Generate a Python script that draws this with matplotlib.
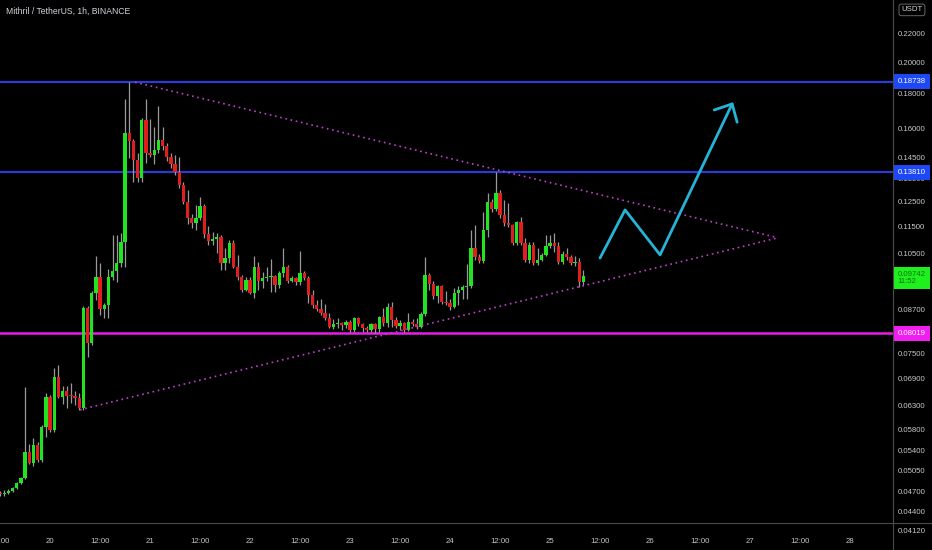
import numpy as np
import matplotlib
matplotlib.use('Agg')
import matplotlib.pyplot as plt
from matplotlib import font_manager
from matplotlib.ticker import FixedLocator, NullLocator

# MITH/USDT 1h candles, first candle = 19th 12:00 (hours counted from the 20th 00:00)
start_hour = -12
opens = [0.0469, 0.0466, 0.0469, 0.0472, 0.0477, 0.0485, 0.0493, 0.0537, 0.0519, 0.0551,
         0.0524, 0.0585, 0.0647, 0.0579, 0.0693, 0.0647, 0.0661, 0.0650, 0.0649, 0.0645,
         0.0624, 0.0874, 0.0777, 0.0920, 0.0970, 0.0871, 0.0883, 0.0970, 0.0990, 0.1017,
         0.1093, 0.1577, 0.1534, 0.1439, 0.1354, 0.1647, 0.1473, 0.1465, 0.1488, 0.1539,
         0.1508, 0.1453, 0.1420, 0.1382, 0.1323, 0.1250, 0.1183, 0.1163, 0.1183, 0.1233,
         0.1122, 0.1096, 0.1101, 0.1110, 0.1017, 0.1034, 0.1089, 0.1003, 0.0970, 0.0929,
         0.0960, 0.0920, 0.1003, 0.0957, 0.0967, 0.0970, 0.0972, 0.0944, 0.0983, 0.1003,
         0.0957, 0.0967, 0.0954, 0.0983, 0.0967, 0.0914, 0.0883, 0.0871, 0.0860, 0.0845,
         0.0820, 0.0828, 0.0831, 0.0826, 0.0834, 0.0812, 0.0845, 0.0828, 0.0817, 0.0812,
         0.0828, 0.0815, 0.0848, 0.0831, 0.0877, 0.0839, 0.0823, 0.0831, 0.0812, 0.0834,
         0.0828, 0.0820, 0.0856, 0.0976, 0.0947, 0.0910, 0.0940, 0.0892, 0.0889, 0.0877,
         0.0920, 0.0929, 0.0937, 0.0940, 0.1070, 0.1037, 0.1024, 0.1137, 0.1250, 0.1220,
         0.1288, 0.1196, 0.1163, 0.1156, 0.1089, 0.1168, 0.1089, 0.1027, 0.1082, 0.1017,
         0.1027, 0.1045, 0.1075, 0.1089, 0.1075, 0.1020, 0.1048, 0.1037, 0.1017, 0.1020,
         0.0954]
highs = [0.0472, 0.0473, 0.0474, 0.0478, 0.0486, 0.0495, 0.0670, 0.0553, 0.0564, 0.0556,
         0.0589, 0.0655, 0.0651, 0.0713, 0.0722, 0.0672, 0.0672, 0.0679, 0.0661, 0.0655,
         0.0880, 0.0880, 0.0925, 0.1041, 0.1017, 0.0889, 0.0997, 0.1119, 0.1119, 0.1125,
         0.1770, 0.1874, 0.1545, 0.1473, 0.1658, 0.1765, 0.1650, 0.1610, 0.1726, 0.1610,
         0.1525, 0.1473, 0.1463, 0.1453, 0.1336, 0.1301, 0.1200, 0.1237, 0.1271, 0.1240,
         0.1150, 0.1129, 0.1125, 0.1118, 0.1070, 0.1099, 0.1099, 0.1045, 0.0976, 0.0970,
         0.0970, 0.1041, 0.1020, 0.0987, 0.1003, 0.1030, 0.0976, 0.0990, 0.1070, 0.1010,
         0.0973, 0.0970, 0.1059, 0.0990, 0.0973, 0.0929, 0.0898, 0.0901, 0.0886, 0.0860,
         0.0842, 0.0845, 0.0834, 0.0839, 0.0839, 0.0848, 0.0848, 0.0831, 0.0823, 0.0831,
         0.0831, 0.0851, 0.0873, 0.0889, 0.0892, 0.0848, 0.0839, 0.0834, 0.0860, 0.0842,
         0.0845, 0.0862, 0.1037, 0.0983, 0.0957, 0.0944, 0.0944, 0.0926, 0.0901, 0.0935,
         0.0941, 0.0944, 0.1013, 0.1137, 0.1157, 0.1048, 0.1208, 0.1288, 0.1263, 0.1381,
         0.1301, 0.1258, 0.1245, 0.1160, 0.1171, 0.1186, 0.1107, 0.1093, 0.1093, 0.1070,
         0.1052, 0.1117, 0.1117, 0.1125, 0.1093, 0.1059, 0.1070, 0.1045, 0.1041, 0.1034,
         0.0993]
lows = [0.0463, 0.0464, 0.0467, 0.0470, 0.0475, 0.0483, 0.0491, 0.0517, 0.0513, 0.0520,
        0.0520, 0.0566, 0.0575, 0.0575, 0.0645, 0.0633, 0.0624, 0.0635, 0.0631, 0.0620,
        0.0620, 0.0741, 0.0770, 0.0898, 0.0854, 0.0845, 0.0845, 0.0960, 0.0954, 0.1003,
        0.1003, 0.1449, 0.1336, 0.1336, 0.1336, 0.1425, 0.1452, 0.1420, 0.1475, 0.1488,
        0.1434, 0.1401, 0.1366, 0.1310, 0.1240, 0.1160, 0.1144, 0.1137, 0.1175, 0.1107,
        0.1081, 0.1081, 0.1052, 0.0993, 0.0993, 0.1017, 0.1000, 0.0960, 0.0923, 0.0926,
        0.0917, 0.0904, 0.0929, 0.0935, 0.0957, 0.0923, 0.0923, 0.0935, 0.0970, 0.0951,
        0.0954, 0.0944, 0.0944, 0.0960, 0.0890, 0.0874, 0.0865, 0.0854, 0.0839, 0.0817,
        0.0814, 0.0817, 0.0812, 0.0817, 0.0806, 0.0806, 0.0823, 0.0806, 0.0806, 0.0806,
        0.0804, 0.0806, 0.0823, 0.0820, 0.0820, 0.0817, 0.0812, 0.0806, 0.0809, 0.0823,
        0.0814, 0.0817, 0.0851, 0.0929, 0.0901, 0.0890, 0.0886, 0.0883, 0.0868, 0.0874,
        0.0883, 0.0901, 0.0901, 0.0935, 0.1027, 0.1017, 0.1017, 0.1110, 0.1208, 0.1212,
        0.1183, 0.1150, 0.1147, 0.1082, 0.1082, 0.1082, 0.1020, 0.1017, 0.1010, 0.1010,
        0.1024, 0.1041, 0.1068, 0.1055, 0.1013, 0.1013, 0.1027, 0.1010, 0.1006, 0.0938,
        0.0944]
closes = [0.0466, 0.0469, 0.0472, 0.0477, 0.0485, 0.0493, 0.0537, 0.0519, 0.0551, 0.0524,
          0.0585, 0.0647, 0.0579, 0.0693, 0.0647, 0.0661, 0.0650, 0.0649, 0.0645, 0.0624,
          0.0874, 0.0777, 0.0920, 0.0970, 0.0871, 0.0883, 0.0970, 0.0990, 0.1017, 0.1093,
          0.1577, 0.1534, 0.1439, 0.1354, 0.1647, 0.1473, 0.1465, 0.1488, 0.1539, 0.1508,
          0.1453, 0.1420, 0.1382, 0.1323, 0.1250, 0.1183, 0.1163, 0.1183, 0.1233, 0.1122,
          0.1096, 0.1101, 0.1110, 0.1017, 0.1034, 0.1089, 0.1003, 0.0970, 0.0929, 0.0960,
          0.0920, 0.1003, 0.0957, 0.0967, 0.0970, 0.0972, 0.0944, 0.0983, 0.1003, 0.0957,
          0.0967, 0.0954, 0.0983, 0.0967, 0.0914, 0.0883, 0.0871, 0.0860, 0.0845, 0.0820,
          0.0828, 0.0831, 0.0826, 0.0834, 0.0812, 0.0845, 0.0828, 0.0817, 0.0812, 0.0828,
          0.0815, 0.0848, 0.0831, 0.0877, 0.0839, 0.0823, 0.0831, 0.0812, 0.0834, 0.0828,
          0.0820, 0.0856, 0.0976, 0.0947, 0.0910, 0.0940, 0.0892, 0.0889, 0.0877, 0.0920,
          0.0929, 0.0937, 0.0940, 0.1070, 0.1037, 0.1024, 0.1137, 0.1250, 0.1220, 0.1288,
          0.1196, 0.1163, 0.1156, 0.1089, 0.1168, 0.1089, 0.1027, 0.1082, 0.1017, 0.1027,
          0.1045, 0.1075, 0.1089, 0.1075, 0.1020, 0.1048, 0.1037, 0.1017, 0.1020, 0.0954,
          0.09742]

# horizontal levels
resistance_levels = [0.18738, 0.13810]
support_level = 0.08019

# triangle (hours, price)
upper_tl_t = [20.4, 174.7]
upper_tl_p = [0.1870, 0.1107]
lower_tl_t = [7.2, 174.7]
lower_tl_p = [0.0620, 0.1107]

# projected path (hours, price)
path_t = [132, 138, 146.4, 163.7]
path_p = [0.1034, 0.1216, 0.1045, 0.1738]
head_t = [159.4, 163.7, 164.9]
head_p = [0.1703, 0.1738, 0.1634]

price_ticks = [0.22, 0.20, 0.18, 0.16, 0.145, 0.135, 0.125, 0.115, 0.105,
               0.087, 0.081, 0.075, 0.069, 0.063, 0.058, 0.054, 0.0505, 0.047,
               0.044]
bottom_tick = 0.0412
time_ticks = np.arange(-12, 193, 12)
time_labels = ['12:00' if t % 24 else str(20 + t // 24) for t in time_ticks]

BG = '#000000'
GREEN = '#1fe41f'
RED = '#e01e1e'
WICK = '#9a9a9a'
TXT = '#c8c8c8'

# condensed font if present, else Arial-like at a smaller size
names = {f.name for f in font_manager.fontManager.ttflist}
if 'Liberation Sans Narrow' in names:
    narrow = ['Liberation Sans Narrow', 'DejaVu Sans']
    fs_axis, fs_title = 6.6, 7.4
else:
    narrow = ['Liberation Sans', 'DejaVu Sans']
    fs_axis, fs_title = 5.6, 6.2

opens = np.array(opens)
highs = np.array(highs)
lows = np.array(lows)
closes = np.array(closes)
t = np.arange(len(opens)) + start_hour
up = closes >= opens

fig = plt.figure(figsize=(9.32, 5.5), dpi=100, facecolor=BG)
ax = fig.add_axes([0, 1 - 523 / 550, 893 / 932, 523 / 550])
ax.set_facecolor(BG)
ax.set_yscale('log')
ax.set_ylim(0.04233, 0.2467)
ax.set_xlim(-12, 202.3)

# levels
for lv in resistance_levels:
    ax.axhline(lv, color='#2b3bd8', lw=1.6, zorder=1)
ax.axhline(support_level, color='#e81ee8', lw=1.8, zorder=1)

# candles
ax.vlines(t, lows, highs, color=WICK, lw=0.9, zorder=2)
body_lo = np.minimum(opens, closes)
body_hi = np.maximum(opens, closes)
body_hi = np.where(body_hi / body_lo < 1.003, body_lo * 1.003, body_hi)
ax.bar(t, body_hi - body_lo, bottom=body_lo, width=0.8,
       color=np.where(up, GREEN, RED), zorder=3, linewidth=0)

# triangle
ax.plot(upper_tl_t, upper_tl_p, color='#c23ed2', lw=1.2, ls=(0, (1, 2.2)), zorder=4)
ax.plot(lower_tl_t, lower_tl_p, color='#c23ed2', lw=1.2, ls=(0, (1, 2.2)), zorder=4)

# projection arrow
ax.plot(path_t, path_p, color='#25b3d6', lw=2.0, solid_capstyle='round', zorder=5)
ax.plot(head_t, head_p, color='#25b3d6', lw=2.0, solid_capstyle='round', zorder=5)

# axes styling
for s in ['top', 'left', 'bottom']:
    ax.spines[s].set_visible(False)
ax.spines['right'].set_color('#4a4a4a')
ax.yaxis.tick_right()
ax.yaxis.set_major_locator(FixedLocator(price_ticks))
ax.yaxis.set_minor_locator(NullLocator())
ax.set_yticklabels([f'{p:.5f}' for p in price_ticks])
ax.tick_params(axis='y', length=0, pad=3.4, labelsize=fs_axis, labelcolor=TXT)
ax.set_xticks(time_ticks)
ax.set_xticklabels(time_labels)
ax.tick_params(axis='x', length=0, pad=11, labelsize=fs_axis, labelcolor=TXT)
for lab in ax.get_xticklabels() + ax.get_yticklabels():
    lab.set_family(narrow)

ytr = ax.get_yaxis_transform()
ax.text(1.0054, bottom_tick, f'{bottom_tick:.5f}', transform=ytr, ha='left',
        va='center', fontsize=fs_axis, color=TXT, family=narrow, clip_on=False)

# axis frame lines
fig.add_artist(plt.Line2D([0, 1], [1 - 523 / 550] * 2, color='#4a4a4a', lw=0.8))
fig.add_artist(plt.Line2D([893 / 932] * 2, [0, 1], color='#4a4a4a', lw=0.8))

# price labels on the axis
for lv in resistance_levels:
    ax.text(1.0054, lv, f'{lv:.5f}', transform=ytr, ha='left', va='center',
            fontsize=fs_axis, color='white', family=narrow, clip_on=False, zorder=10,
            bbox=dict(boxstyle='square,pad=0.5', fc='#1f48f5', ec='none'))
ax.text(1.0054, support_level, f'{support_level:.5f}', transform=ytr, ha='left',
        va='center', fontsize=fs_axis, color='white', family=narrow, clip_on=False,
        zorder=10, bbox=dict(boxstyle='square,pad=0.5', fc='#f01ef0', ec='none'))
ax.annotate(f'{closes[-1]:.5f}\n11:52', xy=(1.0054, closes[-1]), xycoords=ytr,
            xytext=(0, 3.6), textcoords='offset points', ha='left', va='top',
            fontsize=fs_axis, color='#137013', family=narrow, annotation_clip=False,
            zorder=10, linespacing=1.1,
            bbox=dict(boxstyle='square,pad=0.5', fc='#1ef01e', ec='none'))

# header texts
fig.text(0.006, 0.979, 'Mithril / TetherUS, 1h, BINANCE', color='#d1d4dc',
         fontsize=fs_title, family=narrow, ha='left', va='center')
fig.text(0.9785, 0.982, 'USDT', color='#d1d4dc', fontsize=fs_axis, family=narrow,
         ha='center', va='center',
         bbox=dict(boxstyle='round,pad=0.3', fc=BG, ec='#777777', lw=0.6))

fig.savefig('out.png', dpi=100, facecolor=BG)
